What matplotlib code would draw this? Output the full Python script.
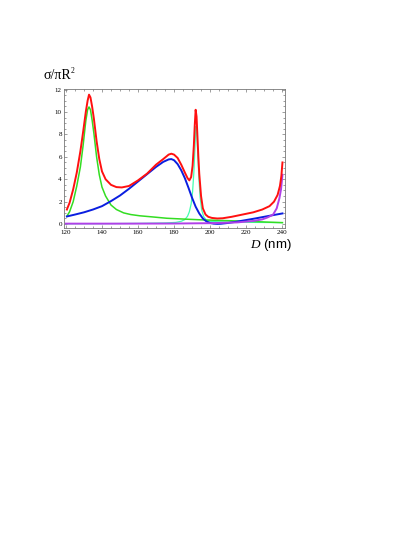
import matplotlib.pyplot as plt
from matplotlib.ticker import MultipleLocator

plt.rcParams['mathtext.fontset'] = 'custom'
plt.rcParams['mathtext.it'] = 'Liberation Serif:italic'
plt.rcParams['mathtext.rm'] = 'Liberation Serif'

# values
red_d = [120.5, 122, 124, 126, 128, 129.5, 131, 132, 132.8, 133.6, 134.5, 135.5, 137, 138.5, 140,
         142, 145, 148, 151, 155, 160, 165, 170, 174, 177, 178.5, 180, 182, 184, 186, 187.5, 188.5,
         189.5, 190.3, 191, 191.5, 192, 192.5, 193, 193.5, 194, 195, 196, 197.5, 199, 201, 204, 207,
         212, 218, 224, 229, 233, 235.5, 237.5, 238.8, 239.6, 240.2]
red_v = [1.3, 1.9, 3.1, 4.6, 6.5, 8.2, 10.0, 11.0, 11.55, 11.3, 10.5, 9.4, 7.4, 5.8, 4.7,
         4.0, 3.5, 3.3, 3.27, 3.4, 3.9, 4.5, 5.3, 5.8, 6.2, 6.28, 6.2, 5.9, 5.3, 4.6, 4.1, 3.9,
         4.2, 5.2, 7.0, 8.8, 10.2, 9.6, 7.8, 6.0, 4.5, 2.5, 1.4, 0.85, 0.65, 0.55, 0.5, 0.52,
         0.65, 0.85, 1.05, 1.3, 1.6, 2.0, 2.6, 3.4, 4.3, 5.5]

green_d = [120.5, 122, 124, 126, 128, 129.5, 131, 132, 132.8, 133.6, 134.5, 135.5, 137, 138.5, 140,
           142, 145, 148, 152, 156, 161, 168, 176, 185, 195, 205, 215, 225, 233, 240.2]
green_v = [0.7, 1.1, 2.0, 3.4, 5.1, 7.0, 9.2, 10.2, 10.45, 10.2, 9.3, 8.1, 6.0, 4.4, 3.3,
           2.5, 1.7, 1.3, 1.0, 0.85, 0.74, 0.64, 0.52, 0.45, 0.38, 0.33, 0.28, 0.22, 0.17, 0.13]

blue_d = [120.5, 125, 130, 135, 140, 145, 150, 155, 160, 165, 170, 174, 177, 178.5, 180, 182, 184,
          186, 188, 190, 192, 194, 196, 198, 200, 202, 204, 206, 210, 215, 220, 225, 230, 235, 240.2]
blue_v = [0.68, 0.85, 1.05, 1.3, 1.6, 2.05, 2.55, 3.15, 3.8, 4.45, 5.1, 5.55, 5.77, 5.8, 5.7, 5.35, 4.8,
          4.1, 3.25, 2.35, 1.55, 0.95, 0.5, 0.24, 0.1, 0.04, 0.02, 0.03, 0.1, 0.22, 0.36, 0.5, 0.65, 0.8, 0.95]

aqua_d = [120, 140, 160, 175, 181, 184, 186, 187.5, 188.5, 189.5, 190.3, 191, 191.6, 192.1, 192.6,
          193.2, 193.8, 194.5, 195.3, 196.5, 198, 200, 205, 215, 225, 240]
aqua_v = [0.03, 0.04, 0.06, 0.1, 0.15, 0.25, 0.4, 0.7, 1.1, 1.8, 2.9, 4.6, 6.8, 8.7, 8.3,
          6.2, 4.1, 2.4, 1.3, 0.65, 0.35, 0.25, 0.2, 0.17, 0.15, 0.13]

purple_d = [120, 150, 180, 200, 215, 224, 229, 232, 235, 237, 238.5, 239.4, 240.2]
purple_v = [0.04, 0.04, 0.05, 0.08, 0.15, 0.28, 0.42, 0.6, 0.85, 1.4, 2.3, 3.1, 4.4]

fig = plt.figure(figsize=(4.15, 5.37), dpi=100)
ax = fig.add_axes([0.1542, 0.5754, 0.5325, 0.2588])

ax.plot(aqua_d, aqua_v, color='#44ffb0', lw=0.9)
ax.plot(green_d, green_v, color='#33dd22', lw=1.1)
ax.plot(blue_d, blue_v, color='#0a1ee0', lw=1.4)
ax.plot(purple_d, purple_v, color='#b040e8', lw=1.4)
ax.plot(red_d, red_v, color='#ff1010', lw=1.4)

ax.set_xlim(118.9, 241.6)
ax.set_ylim(-0.35, 12.05)
ax.xaxis.set_major_locator(MultipleLocator(20))
ax.xaxis.set_minor_locator(MultipleLocator(5))
ax.yaxis.set_major_locator(MultipleLocator(2))
ax.yaxis.set_minor_locator(MultipleLocator(0.5))
ax.tick_params(which='both', direction='in', top=True, right=True, color='#777777', width=0.5)
ax.tick_params(which='major', length=2.5, pad=1.5)
ax.tick_params(which='minor', length=1.2)
for lab in ax.get_xticklabels() + ax.get_yticklabels():
    lab.set_fontfamily('Liberation Serif')
    lab.set_fontsize(5)
for s in ax.spines.values():
    s.set_color('#777777')
    s.set_linewidth(0.6)

fig.text(0.106, 0.853, 'σ/πR', family='Liberation Serif', fontsize=10, va='baseline')
fig.text(0.1705, 0.864, '2', family='Liberation Serif', fontsize=5.5, va='baseline')
fig.text(0.602, 0.539, r'$\mathit{D}$ (nm)', family='Liberation Sans', fontsize=9.5, va='baseline')

plt.savefig('out.png', dpi=100)
